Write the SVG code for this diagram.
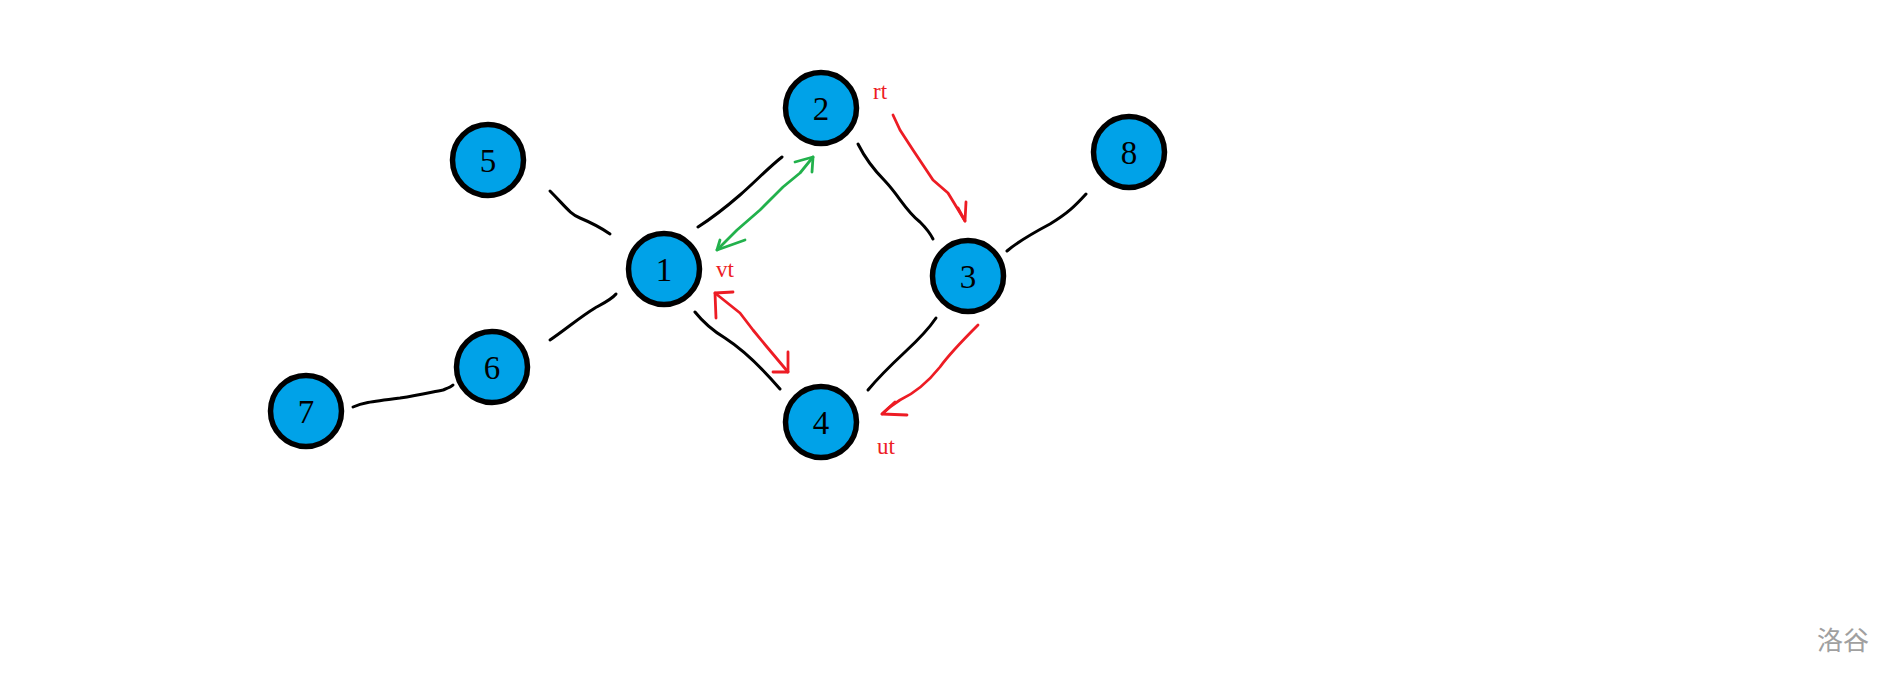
<svg xmlns="http://www.w3.org/2000/svg" width="1900" height="681" viewBox="0 0 1900 681">
<style>
.node circle{fill:#00a2e8;stroke:#000;stroke-width:5.5}
.node text{font-family:"Liberation Serif",serif;font-size:33px;fill:#000;text-anchor:middle}
.edge{fill:none;stroke:#000;stroke-width:3;stroke-linecap:round;stroke-linejoin:round}
.red{fill:none;stroke:#ed1c24;stroke-width:2.8;stroke-linecap:round;stroke-linejoin:round}
.green{fill:none;stroke:#22b14c;stroke-width:2.8;stroke-linecap:round;stroke-linejoin:round}
.lbl{font-family:"Liberation Serif",serif;font-size:23px;fill:#ed1c24}
</style>
<rect width="1900" height="681" fill="#fff"/>
<g id="connectors">
<path class="edge" d="M550,191 C565,206 570,214 580,218 C592,223 600,227 610,234"/>
<path class="edge" d="M550,340 C565,330 580,317 595,308 C606,302 612,299 616,294"/>
<path class="edge" d="M353,407 C362,403 368,402 400,398 C420,395 432,392 443,390 C448,388 451,387 453,385"/>
<path class="edge" d="M698,227 C712,218 725,208 740,195 C755,182 768,168 782,157"/>
<path class="edge" d="M695,312 C703,322 710,329 725,338 C745,351 762,368 780,389"/>
<path class="edge" d="M858,144 C865,158 872,168 885,181 C900,197 905,210 920,222 C926,228 930,233 933,239"/>
<path class="edge" d="M1007,251 C1020,240 1033,233 1050,224 C1068,213 1075,206 1086,194"/>
<path class="edge" d="M936,318 C928,330 918,340 905,352 C890,366 878,378 868,390"/>
<polyline class="green" points="717,250 737,230 760,210 783,187 800,173 813,157"/>
<polyline class="green" points="795,162 813,157 812,172"/>
<polyline class="green" points="720,240 717,250 745,240"/>
<polyline class="red" points="716,318 715,293 733,292"/>
<polyline class="red" points="715,293 740,313 753,330 767,347 788,372"/>
<polyline class="red" points="773,372 788,372 788,352"/>
<polyline class="red" points="893,115 900,130 913,150 933,180 948,193 965,221"/>
<polyline class="red" points="958,208 965,221 966,202"/>
<path class="red" d="M978,325 C965,338 950,353 940,367 C928,382 915,393 900,400 C892,405 887,409 882,414"/>
<polyline class="red" points="895,402 882,414 907,415"/>
</g>
<text class="lbl" x="873" y="99">rt</text>
<text class="lbl" x="716" y="277">vt</text>
<text class="lbl" x="877" y="454">ut</text>
<g id="node1" class="node"><circle cx="664" cy="269" r="35.5"/><text x="664" y="281">1</text></g>
<g id="node2" class="node"><circle cx="821" cy="108" r="35.5"/><text x="821" y="120">2</text></g>
<g id="node3" class="node"><circle cx="968" cy="276" r="35.5"/><text x="968" y="288">3</text></g>
<g id="node4" class="node"><circle cx="821" cy="422" r="35.5"/><text x="821" y="434">4</text></g>
<g id="node5" class="node"><circle cx="488" cy="160" r="35.5"/><text x="488" y="172">5</text></g>
<g id="node6" class="node"><circle cx="492" cy="367" r="35.5"/><text x="492" y="379">6</text></g>
<g id="node7" class="node"><circle cx="306" cy="411" r="35.5"/><text x="306" y="423">7</text></g>
<g id="node8" class="node"><circle cx="1129" cy="152" r="35.5"/><text x="1129" y="164">8</text></g>
<text x="1843" y="650" font-family="Noto Sans CJK SC, sans-serif" font-size="26" fill="#a0a0a0" text-anchor="middle">洛谷</text>
</svg>
